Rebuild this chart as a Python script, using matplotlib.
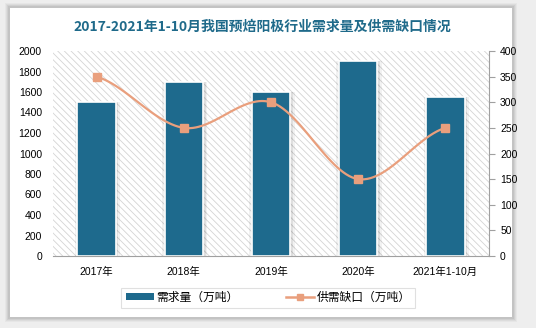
import matplotlib.pyplot as plt
import numpy as np
from matplotlib.patches import Rectangle
from matplotlib.lines import Line2D
from matplotlib.patches import Patch

plt.rcParams['font.family'] = ['Liberation Sans', 'Noto Sans CJK SC', 'DejaVu Sans']
plt.rcParams['hatch.linewidth'] = 0.6

years = ["2017年", "2018年", "2019年", "2020年", "2021年1-10月"]
demand = [1500, 1700, 1600, 1900, 1550]
gap = [350, 250, 300, 150, 250]

bar_color = "#1e6a8d"
line_color = "#e99f7d"


def smooth(xs, ys, n=30):
    # catmull-rom style smoothing, like excel's smoothed line
    xs = np.asarray(xs, float)
    ys = np.asarray(ys, float)
    px = np.concatenate([[2 * xs[0] - xs[1]], xs, [2 * xs[-1] - xs[-2]]])
    py = np.concatenate([[ys[0]], ys, [ys[-1]]])
    outx, outy = [], []
    for i in range(1, len(px) - 2):
        t = np.linspace(0, 1, n)
        for p, out in ((px, outx), (py, outy)):
            p0, p1, p2, p3 = p[i - 1], p[i], p[i + 1], p[i + 2]
            out.extend(0.5 * ((2 * p1) + (-p0 + p2) * t
                              + (2 * p0 - 5 * p1 + 4 * p2 - p3) * t ** 2
                              + (-p0 + 3 * p1 - 3 * p2 + p3) * t ** 3))
    return np.array(outx), np.array(outy)


fig = plt.figure(figsize=(5.36, 3.28), dpi=100, facecolor="#eeeeee")

# card with soft shadow
W, H = 536, 328
for k, a in enumerate([0.03, 0.04, 0.05, 0.06]):
    d = 5 - k
    fig.patches.append(Rectangle(((10 - d) / W, 1 - (317 + d) / H), (502 + 2 * d) / W, (309 + 2 * d) / H,
                                 transform=fig.transFigure, facecolor="black", alpha=a, edgecolor="none", zorder=-5))
fig.patches.append(Rectangle((10 / W, 1 - 317 / H), 502 / W, 309 / H, transform=fig.transFigure,
                             facecolor="white", edgecolor="none", zorder=-4))

ax = fig.add_axes([53 / W, 1 - 256 / H, 436 / W, 205 / H])
ax.set_facecolor("white")
ax.add_patch(Rectangle((0, 0), 1, 1, transform=ax.transAxes, facecolor="none",
                       edgecolor="#d4d4d4", hatch="\\\\\\\\\\", linewidth=0, zorder=0))

x = np.arange(len(years))
# soft shadow behind bars
ax.bar(x + 0.01, demand, width=0.52, color="black", alpha=0.05, zorder=1)
ax.bar(x + 0.01, demand, width=0.48, color="black", alpha=0.08, zorder=1)
ax.bar(x, demand, width=0.44, color=bar_color, edgecolor="white", linewidth=1.2, zorder=2)
ax.set_xlim(-0.5, 4.5)
ax.set_ylim(0, 2000)
ax.set_yticks(np.arange(0, 2001, 200))
ax.set_xticks(x)
ax.set_xticklabels(years)
for s in ["top", "right", "left"]:
    ax.spines[s].set_visible(False)
ax.spines["bottom"].set_color("#a0a0a0")
ax.tick_params(axis="y", length=0, labelsize=7.5, pad=8)
ax.tick_params(axis="x", length=0, labelsize=7.5, pad=8)

ax2 = ax.twinx()
sx, sy = smooth(x, gap)
ax2.plot(sx, sy, color=line_color, linewidth=1.6, zorder=3)
ax2.plot(x, gap, linestyle="none", marker="s", markersize=5.5, color=line_color, zorder=4)
ax2.set_ylim(0, 400)
ax2.set_yticks(np.arange(0, 401, 50))
for s in ["top", "left", "bottom"]:
    ax2.spines[s].set_visible(False)
ax2.spines["right"].set_color("#a0a0a0")
ax2.tick_params(axis="y", length=4, color="#a0a0a0", labelsize=7.5, pad=4)

fig.text(0.49, 1 - 27 / H, "2017-2021年1-10月我国预焙阳极行业需求量及供需缺口情况",
         ha="center", va="center", fontsize=10, fontweight="bold", color="#1f6a8a",
         family=["Noto Sans CJK SC"])

handles = [Patch(facecolor=bar_color, label="需求量（万吨）"),
           Line2D([0], [0], color=line_color, marker="s", markersize=5, linewidth=1.8, label="供需缺口（万吨）")]
leg = fig.legend(handles=handles, loc="center", bbox_to_anchor=(268 / W, 1 - 298 / H), ncol=2,
                 fontsize=8.5, frameon=True, fancybox=False, edgecolor="#d9d9d9",
                 handlelength=2.4, handleheight=0.5, handletextpad=0.2, columnspacing=4.0, borderpad=0.35)
leg.get_frame().set_linewidth(0.8)

fig.savefig("out.png", dpi=100, facecolor=fig.get_facecolor())
